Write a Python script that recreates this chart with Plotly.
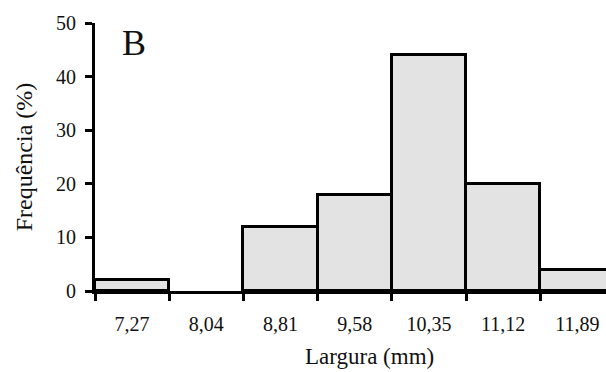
import plotly.graph_objects as go

categories = ["7,27", "8,04", "8,81", "9,58", "10,35", "11,12", "11,89"]
frequencies = [2, 0, 12, 18, 44, 20, 4]
y_ticks = [0, 10, 20, 30, 40, 50]

FONT = "Liberation Serif"
idx = list(range(len(categories)))
edges = [i - 0.5 for i in range(len(categories) + 1)]
outline_widths = [3 if v > 0 else 0 for v in frequencies]

fig = go.Figure()
fig.add_trace(go.Bar(
    x=idx, y=frequencies, width=1,
    marker=dict(color="#e3e3e3", line=dict(color="black", width=outline_widths)),
))

fig.update_layout(
    width=606, height=372,
    margin=dict(l=95, r=0, t=23, b=81),
    paper_bgcolor="white", plot_bgcolor="white",
    showlegend=False, bargap=0,
    font=dict(family=FONT, size=20, color="#111111"),
    xaxis=dict(
        range=[-0.5, 6.386], tickmode="array", tickvals=idx, ticktext=categories,
        ticks="", showgrid=False, zeroline=False,
        showline=True, linecolor="black", linewidth=3,
        minor=dict(tickmode="array", tickvals=edges, ticks="outside",
                   ticklen=7, tickwidth=3, tickcolor="black", showgrid=False),
        ticklabelstandoff=13,
        tickfont=dict(family=FONT, size=20),
    ),
    yaxis=dict(
        range=[0, 50], tickmode="array", tickvals=y_ticks,
        ticks="outside", ticklen=7, tickwidth=3, tickcolor="black",
        showgrid=False, zeroline=False,
        showline=True, linecolor="black", linewidth=3,
        ticklabelstandoff=5,
        tickfont=dict(family=FONT, size=20),
        title=dict(text="Frequência (%)", font=dict(family=FONT, size=24), standoff=17),
    ),
    annotations=[
        dict(text="B", xref="paper", yref="paper", x=0.048, y=0.925,
             xanchor="left", yanchor="middle", showarrow=False,
             font=dict(family=FONT, size=36, color="#111111")),
        dict(text="Largura (mm)", xref="paper", yref="paper", x=0.538, y=-0.243,
             xanchor="center", yanchor="middle", showarrow=False,
             font=dict(family=FONT, size=23, color="#111111")),
    ],
)

fig.write_html("out.html")
